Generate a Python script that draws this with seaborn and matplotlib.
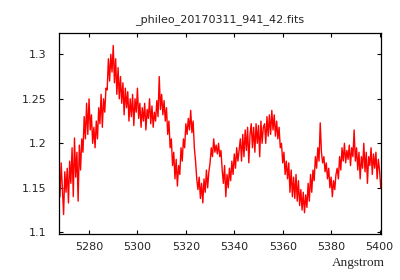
import numpy as np
import pandas as pd
import matplotlib
matplotlib.use("Agg")
import matplotlib.pyplot as plt
import seaborn as sns

# spectrum, 0.5 Angstrom steps starting at 5267.5
start_wave = 5267.5
step_wave = 0.5
flux = [
    1.165, 1.140, 1.178, 1.150, 1.120, 1.168, 1.145, 1.172, 1.133, 1.180,
    1.155, 1.195, 1.140, 1.206, 1.162, 1.190, 1.135, 1.198, 1.170, 1.205,
    1.190, 1.230, 1.205, 1.245, 1.210, 1.250, 1.215, 1.232, 1.200, 1.218,
    1.195, 1.225, 1.205, 1.240, 1.222, 1.255, 1.218, 1.250, 1.235, 1.262,
    1.260, 1.295, 1.270, 1.300, 1.280, 1.310, 1.268, 1.295, 1.255, 1.285,
    1.250, 1.275, 1.245, 1.268, 1.232, 1.262, 1.240, 1.258, 1.225, 1.250,
    1.230, 1.255, 1.220, 1.250, 1.235, 1.262, 1.228, 1.245, 1.218, 1.240,
    1.225, 1.245, 1.215, 1.238, 1.228, 1.250, 1.222, 1.242, 1.218, 1.235,
    1.225, 1.248, 1.230, 1.275, 1.238, 1.255, 1.232, 1.248, 1.225, 1.240,
    1.210, 1.225, 1.195, 1.205, 1.175, 1.190, 1.160, 1.182, 1.152, 1.175,
    1.165, 1.195, 1.180, 1.205, 1.195, 1.222, 1.210, 1.228, 1.215, 1.237,
    1.212, 1.225, 1.195, 1.180, 1.160, 1.148, 1.162, 1.138, 1.155, 1.133,
    1.160, 1.145, 1.170, 1.150, 1.168, 1.178, 1.195, 1.185, 1.205, 1.190,
    1.198, 1.188, 1.200, 1.185, 1.192, 1.170, 1.155, 1.175, 1.140, 1.165,
    1.150, 1.172, 1.158, 1.180, 1.165, 1.188, 1.172, 1.195, 1.180, 1.192,
    1.205, 1.180, 1.210, 1.185, 1.215, 1.192, 1.218, 1.178, 1.210, 1.222,
    1.195, 1.218, 1.190, 1.222, 1.200, 1.220, 1.185, 1.225, 1.200, 1.218,
    1.222, 1.200, 1.230, 1.208, 1.232, 1.210, 1.237, 1.215, 1.232, 1.208,
    1.225, 1.205, 1.218, 1.195, 1.200, 1.178, 1.190, 1.165, 1.180, 1.160,
    1.178, 1.145, 1.170, 1.140, 1.162, 1.138, 1.165, 1.135, 1.158, 1.130,
    1.148, 1.125, 1.145, 1.122, 1.142, 1.128, 1.155, 1.135, 1.165, 1.145,
    1.170, 1.158, 1.185, 1.172, 1.195, 1.180, 1.223, 1.190, 1.178, 1.185,
    1.168, 1.178, 1.160, 1.172, 1.150, 1.162, 1.140, 1.158, 1.148, 1.165,
    1.172, 1.160, 1.185, 1.170, 1.195, 1.180, 1.200, 1.178, 1.192, 1.182,
    1.198, 1.175, 1.195, 1.185, 1.215, 1.180, 1.195, 1.170, 1.190, 1.160,
    1.185, 1.172, 1.200, 1.168, 1.190, 1.155, 1.185, 1.175, 1.195, 1.165,
    1.188, 1.172, 1.190, 1.160, 1.182, 1.170, 1.150,
]
wave = start_wave + step_wave * np.arange(len(flux))

xticks = [5280, 5300, 5320, 5340, 5360, 5380, 5400]
yticks = [1.1, 1.15, 1.2, 1.25, 1.3]
ytick_labels = ["1.1", "1.15", "1.2", "1.25", "1.3"]

df = pd.DataFrame({"wave": wave, "flux": flux})

sns.set_style("ticks")
plt.rcParams["font.family"] = ["DejaVu Sans"]

fig = plt.figure(figsize=(4, 2.8), dpi=100)
ax = fig.add_axes([0.1475, 0.164, 0.805, 0.717])

sns.lineplot(data=df, x="wave", y="flux", color="#ff0000", linewidth=1.0, ax=ax)

ax.set_xlim(5267.6, 5400.6)
ax.set_ylim(1.098, 1.3236)
ax.set_xticks(xticks)
ax.set_xticklabels([str(t) for t in xticks])
ax.set_yticks(yticks)
ax.set_yticklabels(ytick_labels)
ax.tick_params(direction="in", length=3, width=0.8, labelsize=8,
               top=True, right=True, color="black")
ax.tick_params(axis="y", pad=9)
ax.tick_params(axis="x", pad=6)
for sp in ax.spines.values():
    sp.set_linewidth(0.9)
    sp.set_color("black")

ax.set_title("_phileo_20170311_941_42.fits", fontsize=8, pad=8)
ax.set_xlabel("Angstrom", fontsize=9.5, family="Liberation Serif", ha="right")
ax.xaxis.set_label_coords(1.012, -0.115)
ax.set_ylabel("")

fig.savefig("out.png", dpi=100)
